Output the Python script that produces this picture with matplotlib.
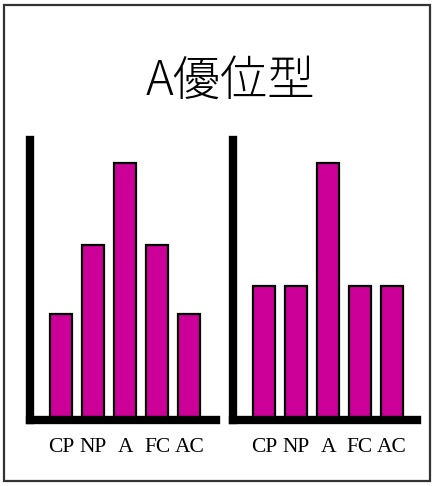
import matplotlib.pyplot as plt
from matplotlib.patches import Rectangle

# data
categories = ["CP", "NP", "A", "FC", "AC"]
left_values = [2.05, 3.4, 5.0, 3.4, 2.05]
right_values = [2.6, 2.6, 5.0, 2.6, 2.6]
title = "A優位型"

bar_color = "#CC0099"

W, H = 434, 486
fig = plt.figure(figsize=(W / 100, H / 100), dpi=100)

# outer frame
fig.patches.append(Rectangle((4 / W, 5 / H), 426 / W, 476 / H, transform=fig.transFigure,
                             fill=False, edgecolor="#333333", linewidth=1.6))

fig.text(230 / W, 1 - 81 / H, title, ha="center", va="center", fontsize=34,
         family=["Noto Sans CJK JP", "DejaVu Sans"], fontweight="light")

# (left px, width px, xlim low, xlim high, values)
panels = [
    (30, 186, -0.98, 4.83, left_values),
    (233, 184, -0.97, 4.78, right_values),
]

for x0, w, xlo, xhi, vals in panels:
    ax = fig.add_axes([x0 / W, (H - 420) / H, w / W, 280 / H])
    xs = range(len(categories))
    ax.bar(xs, vals, width=0.69, color=bar_color, edgecolor="black", linewidth=1.6, zorder=1)
    ax.set_xlim(xlo, xhi)
    ax.set_ylim(0, 5.44)
    for s in ["top", "right"]:
        ax.spines[s].set_visible(False)
    for s in ["left", "bottom"]:
        ax.spines[s].set_linewidth(6)
        ax.spines[s].set_zorder(3)
    ax.set_yticks([])
    ax.set_xticks(list(xs))
    ax.set_xticklabels(categories, family="Liberation Serif", fontsize=15.5)
    ax.tick_params(axis="x", length=0, pad=13)

fig.savefig("out.png", dpi=100)
